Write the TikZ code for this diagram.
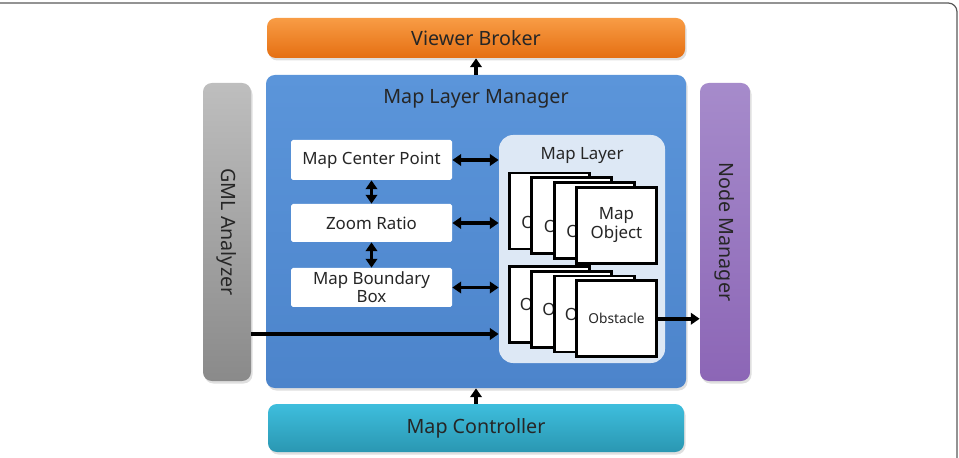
\documentclass[tikz,border=0pt]{standalone}
\usepackage{fontspec}
\setmainfont{Noto Sans}
\usetikzlibrary{arrows.meta,shadows,calc}

\definecolor{brokerTop}{HTML}{F89C45}
\definecolor{brokerBot}{HTML}{E56F12}
\definecolor{managerTop}{HTML}{5B95DA}
\definecolor{managerBot}{HTML}{4C84CB}
\definecolor{gmlTop}{HTML}{BEBEBE}
\definecolor{gmlBot}{HTML}{8A8A8A}
\definecolor{nodeTop}{HTML}{A68BCB}
\definecolor{nodeBot}{HTML}{8C66B6}
\definecolor{ctrlTop}{HTML}{3EBEDD}
\definecolor{ctrlBot}{HTML}{2A97B2}
\definecolor{layerFill}{HTML}{DDE8F5}

\tikzset{
  % style for the coloured blocks round the manager
  block/.style={rounded corners=5pt, inner sep=0pt, text=black!85,
    font=\fontsize{11.2}{13}\selectfont,
    drop shadow={opacity=0.25, shadow xshift=0.03cm, shadow yshift=-0.05cm}},
  % style for the white boxes holding the map settings
  setting/.style={fill=white, rounded corners=1pt, minimum width=3.22cm,
    inner sep=0pt, align=center, text=black!85,
    font=\fontsize{9.6}{10.4}\selectfont},
  % style for one card of a stack
  card/.style={draw=black, line width=1.7pt, fill=white, minimum width=1.6cm,
    minimum height=1.52cm, inner sep=0pt, align=center, text=black!85,
    font=\fontsize{9.6}{11}\selectfont},
  % the letter that shows on a card lying behind another
  peek/.style={anchor=west, inner sep=0pt, text=black!85, font=\fontsize{9.6}{11}\selectfont},
  % one way and two way arrows
  link/.style={-{Triangle[length=5pt,width=6.5pt]}, line width=2pt},
  twoway/.style={{Triangle[length=5pt,width=6.5pt]}-{Triangle[length=5pt,width=6.5pt]}, line width=2pt},
}

\begin{document}
\begin{tikzpicture}
\useasboundingbox (0,0) rectangle (19.18,-9.16);

% Frame
\draw[black!65, line width=0.7pt, rounded corners=5pt] (0,-0.06) -- (19.14,-0.06) -- (19.14,-9.16);

% Blocks
\node[block, top color=brokerTop, bottom color=brokerBot, minimum width=8.36cm, minimum height=0.8cm] (broker) at (9.52,-0.76) {Viewer Broker};
\node[block, top color=managerTop, bottom color=managerBot, minimum width=8.4cm, minimum height=6.26cm] (manager) at (9.52,-4.63) {};
\node[text=black!85, font=\fontsize{11.2}{13}\selectfont] (managertitle) at (9.52,-1.98) {Map Layer Manager};
\node[block, top color=gmlTop, bottom color=gmlBot, minimum width=0.96cm, minimum height=5.96cm] (gml) at (4.54,-4.64) {};
\node[rotate=-90, text=black!85, font=\fontsize{11.2}{13}\selectfont] (gmltext) at (gml.center) {GML Analyzer};
\node[block, top color=nodeTop, bottom color=nodeBot, minimum width=1.0cm, minimum height=5.96cm] (nodemgr) at (14.5,-4.64) {};
\node[rotate=-90, text=black!85, font=\fontsize{11.2}{13}\selectfont] (nodetext) at (nodemgr.center) {Node Manager};
\node[block, top color=ctrlTop, bottom color=ctrlBot, minimum width=8.32cm, minimum height=0.96cm] (controller) at (9.52,-8.56) {Map Controller};

% Map settings
\node[setting, minimum height=0.8cm] (center) at (7.43,-3.2) {Map Center Point};
\node[setting, minimum height=0.76cm] (zoom) at (7.43,-4.46) {Zoom Ratio};
\node[setting, minimum height=0.78cm] (boundary) at (7.43,-5.75) {Map Boundary\\Box};

% Map layer
\node[fill=layerFill, rounded corners=8pt, minimum width=3.32cm, minimum height=4.56cm] (layer) at (11.64,-4.98) {};
\node[text=black!85, font=\fontsize{9.6}{11}\selectfont] (layertitle) at (11.64,-3.12) {Map Layer};
\foreach \i in {1,...,3} {
  \node[card] (obj\i) at ({10.98+0.45*(\i-1)},{-4.22-0.095*(\i-1)}) {};
  \node[peek] (objpeek\i) at ($(obj\i.west)+(0.27,-0.22)$) {O};
}
\node[card] (obj4) at (12.33,-4.505) {Map\\Object};
\foreach \i in {1,...,3} {
  \node[card] (obs\i) at ({10.98+0.45*(\i-1)},{-6.09-0.095*(\i-1)}) {};
  \node[peek] (obspeek\i) at ($(obs\i.west)+(0.24,0)$) {O};
}
\node[card, font=\fontsize{7.8}{9}\selectfont] (obs4) at (12.33,-6.375) {Obstacle};

% Arrows
\draw[link] (manager.north) -- (broker.south);
\draw[link] (controller.north) -- (manager.south);
\draw[twoway] (center.south) -- (zoom.north);
\draw[twoway] (zoom.south) -- (boundary.north);
\draw[twoway] (center.east) -- (center.east -| layer.west);
\draw[twoway] (zoom.east) -- (zoom.east -| layer.west);
\draw[twoway] (boundary.east) -- (boundary.east -| layer.west);
\coordinate (gmlout) at ($(gml.east)+(0,-2.04)$);
\draw[link] (gmlout) -- (gmlout -| layer.west);
\draw[link] (obs4.east) -- (obs4.east -| nodemgr.west);

\end{tikzpicture}
\end{document}
